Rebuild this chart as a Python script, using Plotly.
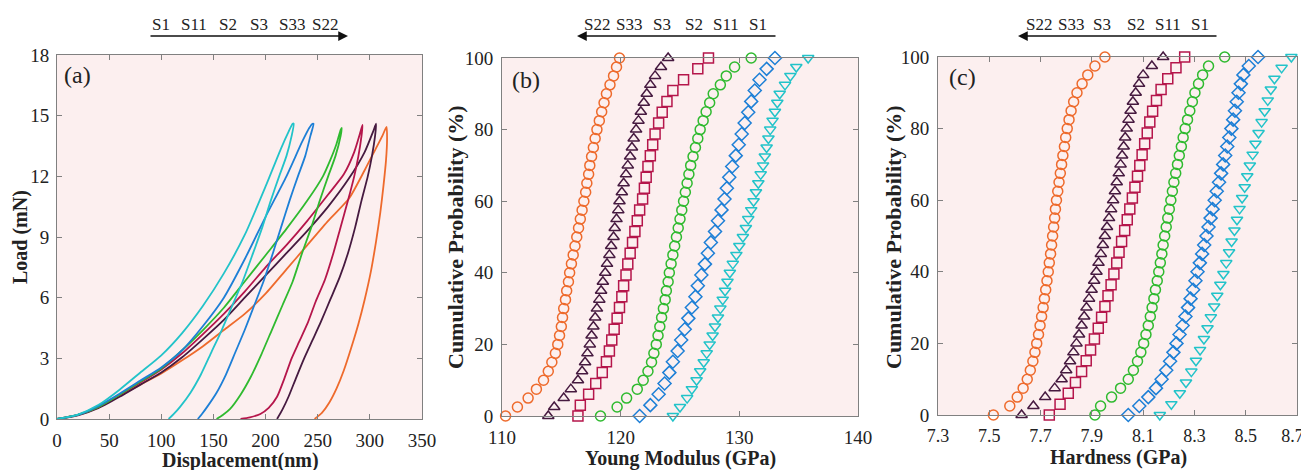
import plotly.graph_objects as go

# page body has an 8px margin: the figure is sized to fit the 1309x470 window
OFF = 8
W, H = 1309 - OFF, 470 - OFF
FONT = "Liberation Serif"

samples = ["S1", "S11", "S2", "S3", "S33", "S22"]
colors = ["#22C3C9", "#1D7FD6", "#2FBA2F", "#B5164B", "#461A40", "#EE6A2C"]
cdf_symbols = ["triangle-down-open", "diamond-open", "circle-open", "square-open",
               "triangle-up-open", "circle-open"]

# ---------------- (a) load - displacement curves ----------------
s1_load_h = [0, 20, 40, 60, 80, 100, 120, 140, 160, 180, 200, 215, 222, 226]
s1_load_p = [0, 0.22, 0.7, 1.45, 2.3, 3.15, 4.25, 5.6, 7.2, 9.1, 11.5, 13.4, 14.2, 14.6]
s1_unload_h = [227, 225, 220, 213, 205, 197, 188, 178, 168, 158, 148, 138, 128, 118, 112, 107]
s1_unload_p = [14.6, 14.0, 13.0, 12.0, 10.8, 9.5, 8.2, 6.8, 5.6, 4.4, 3.3, 2.2, 1.3, 0.6, 0.25, 0]

s11_load_h = [0, 20, 40, 60, 80, 100, 120, 140, 160, 180, 200, 220, 235, 242, 245]
s11_load_p = [0, 0.2, 0.65, 1.25, 1.9, 2.55, 3.4, 4.6, 6.0, 7.9, 10.0, 12.0, 13.7, 14.4, 14.6]
s11_unload_h = [246, 243, 238, 231, 223, 215, 207, 198, 189, 180, 171, 162, 153, 144, 139, 135]
s11_unload_p = [14.6, 14.0, 13.0, 12.0, 10.8, 9.5, 8.2, 6.8, 5.6, 4.4, 3.3, 2.2, 1.3, 0.6, 0.25, 0]

s2_load_h = [0, 20, 40, 60, 80, 100, 120, 140, 160, 180, 200, 220, 240, 255, 262, 268, 272]
s2_load_p = [0, 0.2, 0.6, 1.2, 1.85, 2.5, 3.4, 4.4, 5.5, 6.8, 8.1, 9.4, 10.8, 12.0, 12.8, 13.6, 14.3]
s2_unload_h = [273, 272, 267, 260, 252, 244, 235, 226, 216, 206, 196, 186, 176, 166, 159, 153]
s2_unload_p = [14.4, 14.0, 13.0, 12.0, 10.8, 9.5, 8.2, 6.8, 5.6, 4.4, 3.2, 2.1, 1.2, 0.5, 0.2, 0]

s3_load_h = [0, 20, 40, 60, 80, 100, 120, 140, 160, 180, 200, 220, 240, 260, 275, 285, 291]
s3_load_p = [0, 0.2, 0.6, 1.2, 1.8, 2.45, 3.25, 4.2, 5.2, 6.3, 7.5, 8.6, 9.8, 11.1, 12.1, 13.2, 14.2]
s3_unload_h = [293, 292, 289, 285, 279, 272, 265, 257, 248, 240, 232, 225, 218, 211, 203, 195, 185, 176]
s3_unload_p = [14.55, 14.0, 13.0, 12.0, 10.8, 9.5, 8.2, 6.9, 5.8, 4.7, 3.8, 3.0, 2.0, 1.1, 0.55, 0.25, 0.08, 0]

s33_load_h = [0, 20, 40, 60, 80, 100, 120, 140, 160, 180, 200, 220, 240, 260, 280, 295, 303]
s33_load_p = [0, 0.18, 0.55, 1.1, 1.7, 2.3, 3.05, 3.95, 4.9, 6.0, 7.1, 8.2, 9.3, 10.5, 11.9, 13.2, 14.2]
s33_unload_h = [306, 305, 302, 298, 292, 286, 279, 271, 262, 253, 245, 237, 229, 222, 216, 211]
s33_unload_p = [14.6, 14.0, 13.0, 12.0, 10.8, 9.5, 8.2, 7.0, 5.9, 4.8, 3.9, 3.0, 2.0, 1.1, 0.45, 0]

s22_load_h = [0, 20, 40, 60, 80, 100, 120, 140, 160, 180, 200, 220, 240, 260, 280, 295, 305, 312]
s22_load_p = [0, 0.2, 0.6, 1.15, 1.7, 2.25, 2.9, 3.6, 4.4, 5.2, 6.2, 7.4, 8.6, 9.8, 10.9, 12.3, 13.3, 14.0]
s22_unload_h = [316, 316.5, 315.5, 313, 310, 306, 301, 295, 289, 282, 275, 268, 261, 254, 247]
s22_unload_p = [14.45, 13.8, 12.8, 11.5, 10.2, 8.8, 7.3, 5.9, 4.7, 3.5, 2.4, 1.5, 0.8, 0.3, 0]

# ---------------- (b) Young modulus (GPa), sorted samples ----------------
s1_modulus = [124.4, 125.0, 125.6, 126.0, 126.4, 126.7, 127.0, 127.25, 127.5, 127.75, 127.95,
              128.2, 128.4, 128.6, 128.8, 129.0, 129.2, 129.45, 129.75, 130.0, 130.3, 130.55,
              130.75, 131.0, 131.2, 131.4, 131.6, 131.8, 132.0, 132.15, 132.3, 132.45, 132.6,
              132.8, 133.0, 133.2, 133.4, 133.85, 134.3, 134.8, 135.8]
s11_modulus = [121.6, 122.5, 123.2, 123.7, 124.1, 124.4, 124.8, 125.1, 125.4, 125.7, 126.0,
               126.3, 126.5, 126.8, 127.1, 127.35, 127.6, 127.95, 128.2, 128.5, 128.75, 128.95,
               129.15, 129.4, 129.7, 129.95, 130.2, 130.45, 130.75, 131.0, 131.3, 131.7, 132.3, 133.0]
s2_modulus = [118.3, 119.7, 120.5, 121.4, 121.9, 122.3, 122.6, 122.8, 123.0, 123.15, 123.3,
              123.45, 123.6, 123.75, 123.85, 124.0, 124.1, 124.25, 124.4, 124.55, 124.7, 124.85,
              125.0, 125.15, 125.3, 125.45, 125.6, 125.75, 125.9, 126.1, 126.3, 126.5, 126.7,
              126.95, 127.2, 127.5, 127.8, 128.4, 128.9, 129.6, 131.0]
s3_modulus = [116.4, 116.6, 117.3, 117.9, 118.45, 118.8, 119.05, 119.25, 119.45, 119.7, 119.9,
              120.1, 120.25, 120.45, 120.6, 120.8, 121.0, 121.2, 121.4, 121.6, 121.85, 122.0,
              122.15, 122.3, 122.5, 122.7, 122.9, 123.2, 123.5, 123.9, 124.4, 125.3, 126.5, 127.4]
s33_modulus = [113.9, 114.4, 115.2, 115.8, 116.4, 116.75, 117.0, 117.2, 117.4, 117.55, 117.7,
               117.85, 118.0, 118.2, 118.35, 118.5, 118.7, 118.85, 119.05, 119.2, 119.4, 119.5,
               119.65, 119.8, 119.9, 120.1, 120.25, 120.45, 120.6, 120.8, 120.95, 121.1, 121.3,
               121.5, 121.7, 121.95, 122.2, 122.5, 122.9, 123.4, 124.0]
s22_modulus = [110.3, 111.3, 112.2, 112.9, 113.5, 113.9, 114.2, 114.5, 114.7, 114.85, 115.0,
               115.1, 115.2, 115.35, 115.45, 115.6, 115.7, 115.85, 116.0, 116.15, 116.3, 116.45,
               116.6, 116.75, 116.9, 117.05, 117.15, 117.3, 117.4, 117.55, 117.7, 117.85, 118.0,
               118.2, 118.4, 118.6, 118.8, 119.1, 119.4, 119.65, 119.9]

# ---------------- (c) Hardness (GPa), sorted samples ----------------
s1_hardness = [8.165, 8.210, 8.243, 8.267, 8.288, 8.306, 8.322, 8.337, 8.351, 8.364, 8.377,
               8.389, 8.401, 8.413, 8.424, 8.435, 8.445, 8.456, 8.466, 8.476, 8.486, 8.496,
               8.506, 8.516, 8.527, 8.538, 8.550, 8.562, 8.574, 8.586, 8.598, 8.612, 8.640, 8.678]
s11_hardness = [8.042, 8.085, 8.120, 8.150, 8.172, 8.190, 8.205, 8.218, 8.230, 8.242, 8.254,
                8.265, 8.275, 8.285, 8.295, 8.304, 8.312, 8.321, 8.330, 8.338, 8.347, 8.355,
                8.363, 8.371, 8.379, 8.387, 8.396, 8.404, 8.412, 8.420, 8.428, 8.436, 8.444,
                8.451, 8.458, 8.465, 8.472, 8.481, 8.491, 8.512, 8.548]
s2_hardness = [7.912, 7.934, 7.977, 8.012, 8.042, 8.062, 8.078, 8.091, 8.102, 8.111, 8.120,
               8.128, 8.135, 8.142, 8.148, 8.155, 8.161, 8.167, 8.173, 8.178, 8.184, 8.190,
               8.196, 8.202, 8.208, 8.214, 8.220, 8.227, 8.234, 8.241, 8.249, 8.256, 8.264,
               8.273, 8.282, 8.292, 8.302, 8.316, 8.332, 8.355, 8.418]
s3_hardness = [7.734, 7.776, 7.808, 7.836, 7.860, 7.878, 7.895, 7.910, 7.925, 7.938, 7.951,
               7.963, 7.975, 7.986, 7.997, 8.006, 8.016, 8.028, 8.038, 8.048, 8.058, 8.068,
               8.078, 8.087, 8.096, 8.106, 8.116, 8.126, 8.137, 8.152, 8.170, 8.196, 8.228, 8.262]
s33_hardness = [7.626, 7.672, 7.718, 7.755, 7.782, 7.800, 7.815, 7.828, 7.840, 7.850, 7.860,
                7.870, 7.879, 7.889, 7.899, 7.909, 7.918, 7.926, 7.935, 7.943, 7.951, 7.959,
                7.967, 7.975, 7.983, 7.990, 7.997, 8.005, 8.012, 8.018, 8.024, 8.030, 8.036,
                8.043, 8.051, 8.060, 8.071, 8.084, 8.100, 8.134, 8.178]
s22_hardness = [7.516, 7.580, 7.609, 7.632, 7.648, 7.660, 7.670, 7.678, 7.685, 7.692, 7.698,
                7.704, 7.710, 7.715, 7.720, 7.725, 7.730, 7.734, 7.739, 7.743, 7.747, 7.751,
                7.755, 7.758, 7.762, 7.767, 7.772, 7.777, 7.782, 7.787, 7.793, 7.798, 7.804,
                7.811, 7.819, 7.829, 7.842, 7.862, 7.884, 7.912, 7.951]

# tick labels
a_xticks = [0, 50, 100, 150, 200, 250, 300, 350]
a_yticks = [0, 3, 6, 9, 12, 15, 18]
b_xticks = [110, 120, 130, 140]
cdf_yticks = [0, 20, 40, 60, 80, 100]
c_xticks = [7.3, 7.5, 7.7, 7.9, 8.1, 8.3, 8.5, 8.7]
c_xticklabels = ["7.3", "7.5", "7.7", "7.9", "8.1", "8.3", "8.5", "8.7"]

arrow_a_labels = ["S1", "S11", "S2", "S3", "S33", "S22"]
arrow_bc_labels = ["S22", "S33", "S3", "S2", "S11", "S1"]

curves = [
    (s1_load_h, s1_load_p, s1_unload_h, s1_unload_p),
    (s11_load_h, s11_load_p, s11_unload_h, s11_unload_p),
    (s2_load_h, s2_load_p, s2_unload_h, s2_unload_p),
    (s3_load_h, s3_load_p, s3_unload_h, s3_unload_p),
    (s33_load_h, s33_load_p, s33_unload_h, s33_unload_p),
    (s22_load_h, s22_load_p, s22_unload_h, s22_unload_p),
]
moduli = [s1_modulus, s11_modulus, s2_modulus, s3_modulus, s33_modulus, s22_modulus]
hardness = [s1_hardness, s11_hardness, s2_hardness, s3_hardness, s33_hardness, s22_hardness]


def cum_prob(vals):
    n = len(vals)
    return [100.0 * i / (n - 1) for i in range(n)]


fig = go.Figure()

for i in [5, 4, 3, 2, 1, 0]:
    lh, lp, uh, up = curves[i]
    fig.add_trace(go.Scatter(
        x=lh + uh, y=lp + up, mode="lines", name=samples[i],
        line=dict(color=colors[i], width=1.8, shape="spline", smoothing=0.6),
        xaxis="x", yaxis="y", showlegend=False))

for i in range(6):
    fig.add_trace(go.Scatter(
        x=moduli[i], y=cum_prob(moduli[i]), mode="markers", name=samples[i],
        marker=dict(symbol=cdf_symbols[i], size=10, color=colors[i],
                    line=dict(color=colors[i], width=1.5)),
        xaxis="x2", yaxis="y2", showlegend=False, cliponaxis=False))
    fig.add_trace(go.Scatter(
        x=hardness[i], y=cum_prob(hardness[i]), mode="markers", name=samples[i],
        marker=dict(symbol=cdf_symbols[i], size=10, color=colors[i],
                    line=dict(color=colors[i], width=1.5)),
        xaxis="x3", yaxis="y3", showlegend=False, cliponaxis=False))

axis_common = dict(
    showline=True, linecolor="#808080", linewidth=1, mirror="allticks",
    ticks="inside", ticklen=5, tickcolor="#808080", tickwidth=1,
    showgrid=False, zeroline=False, automargin=False, ticklabeloverflow="allow",
    tickfont=dict(family=FONT, size=19, color="#222222"),
)


def px(xp):
    return (xp - OFF) / W


def py(yp):
    return 1 - (yp - OFF) / H


# nudge the last tick label of panel (c) a little left so it stays in the window
c_ticktext_display = c_xticklabels[:-1] + [c_xticklabels[-1] + "\u00a0\u00a0"]

fig.update_layout(
    width=W, height=H,
    margin=dict(l=0, r=0, t=0, b=0),
    paper_bgcolor="white",
    plot_bgcolor="#FCEFEF",
    font=dict(family=FONT, color="#222222"),
    xaxis=dict(axis_common, domain=[px(57), px(422)], range=[0, 350],
               tickvals=a_xticks, anchor="y", ticklabelstandoff=4),
    yaxis=dict(axis_common, domain=[py(419), py(55)], range=[0, 18],
               tickvals=a_yticks, anchor="x", ticklabelstandoff=3),
    xaxis2=dict(axis_common, domain=[px(502), px(858)], range=[110, 140],
                tickvals=b_xticks, anchor="y2", ticklabelstandoff=4),
    yaxis2=dict(axis_common, domain=[py(416), py(58)], range=[0, 100],
                tickvals=cdf_yticks, anchor="x2", ticklabelstandoff=4),
    xaxis3=dict(axis_common, domain=[px(938), px(1297)], range=[7.3, 8.7],
                tickvals=c_xticks, ticktext=c_ticktext_display, anchor="y3", ticklabelstandoff=4,
                tickfont=dict(family=FONT, size=18, color="#222222")),
    yaxis3=dict(axis_common, domain=[py(415), py(57)], range=[0, 100],
                tickvals=cdf_yticks, anchor="x3", ticklabelstandoff=4),
)

ann = []
title_font = dict(family=FONT, size=20, color="#222222")
cum_font = dict(family=FONT, size=22, color="#222222")

ann.append(dict(text="<b>Displacement(nm)</b>", x=px(240), y=py(460), xref="paper", yref="paper",
                showarrow=False, font=title_font, xanchor="center", yanchor="middle"))
ann.append(dict(text="<b>Young Modulus (GPa)</b>", x=px(680), y=py(458), xref="paper", yref="paper",
                showarrow=False, font=title_font, xanchor="center", yanchor="middle"))
ann.append(dict(text="<b>Hardness (GPa)</b>", x=px(1118), y=py(457), xref="paper", yref="paper",
                showarrow=False, font=title_font, xanchor="center", yanchor="middle"))
ann.append(dict(text="<b>Load (mN)</b>", x=px(20), y=py(237), xref="paper", yref="paper",
                showarrow=False, font=title_font, textangle=-90, xanchor="center", yanchor="middle"))
ann.append(dict(text="<b>Cumulative Probability (%)</b>", x=px(455), y=py(237), xref="paper",
                yref="paper", showarrow=False, font=cum_font, textangle=-90,
                xanchor="center", yanchor="middle"))
ann.append(dict(text="<b>Cumulative Probability (%)</b>", x=px(893), y=py(237), xref="paper",
                yref="paper", showarrow=False, font=cum_font, textangle=-90,
                xanchor="center", yanchor="middle"))

panel_font = dict(family=FONT, size=24, color="#222222")
for lbl, xx, yy in [("(a)", 77, 75), ("(b)", 526, 80), ("(c)", 962, 77)]:
    ann.append(dict(text=lbl, x=px(xx), y=py(yy), xref="paper", yref="paper", showarrow=False,
                    font=panel_font, xanchor="center", yanchor="middle"))

lab_font = dict(family=FONT, size=17, color="#222222")
for lbl, xx in zip(arrow_a_labels, [161, 194, 228, 259, 292, 325]):
    ann.append(dict(text=lbl, x=px(xx), y=py(24), xref="paper", yref="paper", showarrow=False,
                    font=lab_font, xanchor="center", yanchor="middle"))
for lbl, xx in zip(arrow_bc_labels, [597, 629, 662, 694, 726, 758]):
    ann.append(dict(text=lbl, x=px(xx), y=py(24), xref="paper", yref="paper", showarrow=False,
                    font=lab_font, xanchor="center", yanchor="middle"))
for lbl, xx in zip(arrow_bc_labels, [1039, 1071, 1102, 1136, 1168, 1200]):
    ann.append(dict(text=lbl, x=px(xx), y=py(24), xref="paper", yref="paper", showarrow=False,
                    font=lab_font, xanchor="center", yanchor="middle"))

for head, tail in [(348, 149), (577, 777), (1018, 1218)]:
    ann.append(dict(text="", x=px(head), y=py(36), xref="paper", yref="paper",
                    axref="pixel", ayref="pixel", ax=tail - head, ay=0,
                    showarrow=True, arrowhead=2, arrowsize=1.3, arrowwidth=1.5,
                    arrowcolor="#111111", standoff=0, startstandoff=0))

fig.update_layout(annotations=ann)

fig.write_html("out.html")
